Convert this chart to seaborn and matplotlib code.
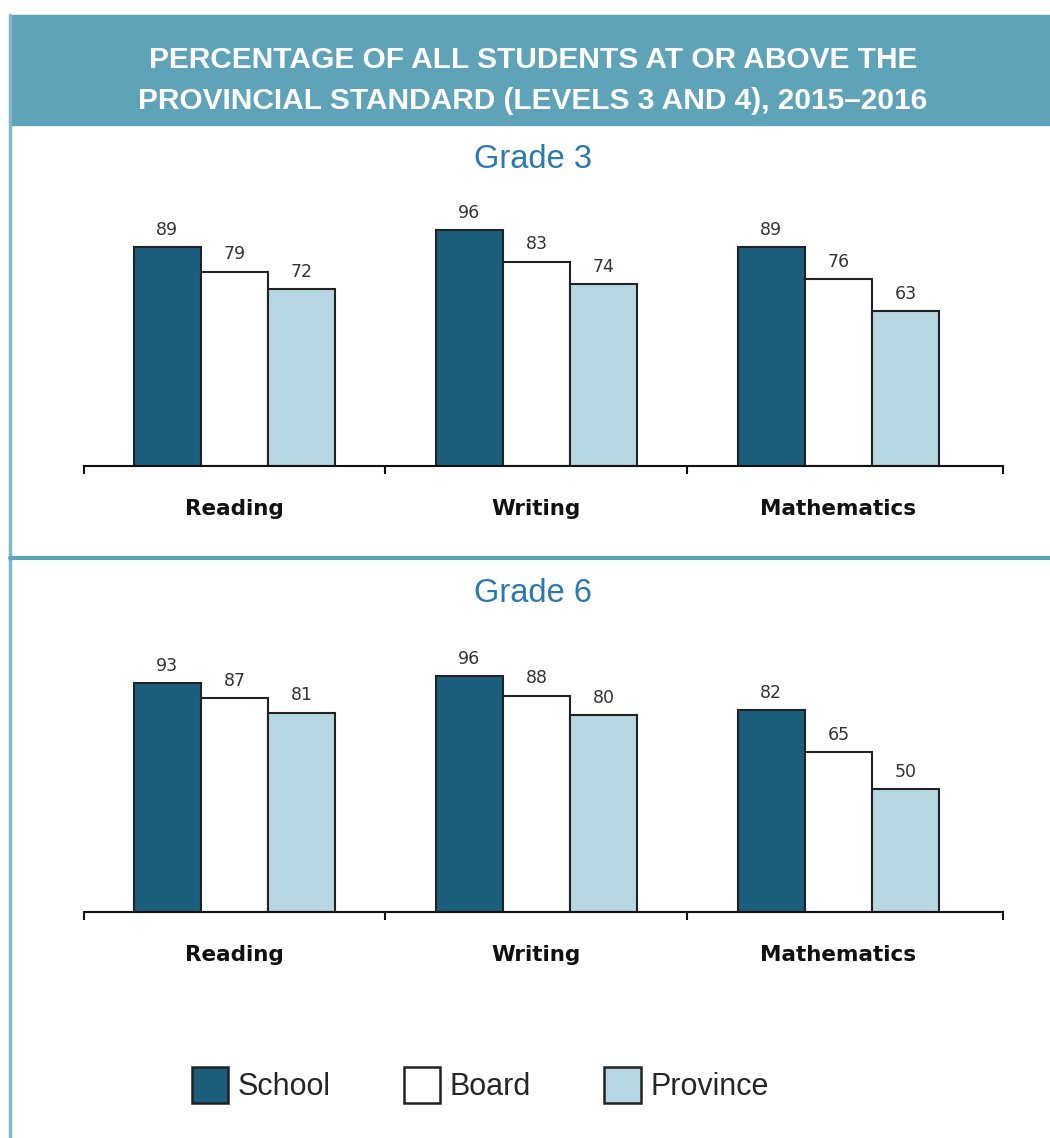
import numpy as np
import pandas as pd
import matplotlib
matplotlib.use("Agg")
import matplotlib.pyplot as plt
from matplotlib.patches import Patch, Rectangle
from matplotlib.lines import Line2D
import seaborn as sns

sns.set_theme(style="white")
plt.rcParams["font.family"] = ["Liberation Sans", "DejaVu Sans"]

# Data
subjects = ["Reading", "Writing", "Mathematics"]
groups = ["School", "Board", "Province"]
grade3_school = [89, 96, 89]
grade3_board = [79, 83, 76]
grade3_province = [72, 74, 63]
grade6_school = [93, 96, 82]
grade6_board = [87, 88, 65]
grade6_province = [81, 80, 50]

palette = {"School": "#1b5f7c", "Board": "#ffffff", "Province": "#b6d6e1"}
TEAL = "#5fa3b8"


def long_df(school, board, province):
    rows = []
    for g, vals in zip(groups, [school, board, province]):
        for s, v in zip(subjects, vals):
            rows.append({"Subject": s, "Group": g, "Value": v})
    return pd.DataFrame(rows)


W, H = 1050, 1138
fig = plt.figure(figsize=(W / 100, H / 100), dpi=100)

# header banner + frame lines
fig.patches.append(Rectangle((10 / W, 1 - 125 / H), 1 - 10 / W, 110 / H,
                             transform=fig.transFigure, color=TEAL, zorder=0))
fig.lines.append(Line2D([10 / W, 10 / W], [0, 1 - 15 / H], transform=fig.transFigure,
                        color="#7db8cc", lw=2.5))
fig.lines.append(Line2D([10 / W, 1], [1 - 558 / H, 1 - 558 / H], transform=fig.transFigure,
                        color=TEAL, lw=3))
fig.text(533 / W, 1 - 60 / H, "PERCENTAGE OF ALL STUDENTS AT OR ABOVE THE",
         ha="center", va="center", color="white", fontsize=21.5, fontweight="bold")
fig.text(533 / W, 1 - 101 / H, "PROVINCIAL STANDARD (LEVELS 3 AND 4), 2015\u20132016",
         ha="center", va="center", color="white", fontsize=21.5, fontweight="bold")

panels = [
    ("Grade 3", long_df(grade3_school, grade3_board, grade3_province), 466, 160),
    ("Grade 6", long_df(grade6_school, grade6_board, grade6_province), 912, 594),
]

for title, df, base_y, title_y in panels:
    ax = fig.add_axes([84 / W, 1 - base_y / H, 919 / W, 246 / H])
    sns.barplot(data=df, x="Subject", y="Value", hue="Group", order=subjects,
                hue_order=groups, palette=palette, edgecolor="#222222", linewidth=1.5,
                width=0.667, saturation=1, legend=False, ax=ax)
    for cont in ax.containers:
        ax.bar_label(cont, padding=6, fontsize=12.5, color="#333333",
                     family="DejaVu Sans")
    ax.set_ylim(0, 100)
    ax.set_xlim(-0.498, 2.545)
    ax.set_xlabel("")
    ax.set_ylabel("")
    ax.set_yticks([])
    for side in ["top", "left", "right"]:
        ax.spines[side].set_visible(False)
    ax.spines["bottom"].set_color("#111111")
    ax.spines["bottom"].set_linewidth(1.5)
    ax.set_xticks([-0.498, 0.5, 1.5, 2.545], minor=True)
    ax.tick_params(axis="x", which="minor", direction="out", length=6, width=1.5,
                   color="#111111", bottom=True)
    ax.tick_params(axis="x", which="major", length=0, pad=24)
    ax.set_xticks(range(len(subjects)))
    ax.set_xticklabels(subjects, fontsize=15.5, fontweight="bold", color="#111111",
                       family="DejaVu Sans")
    ax.set_facecolor("none")
    fig.text(533 / W, 1 - title_y / H, title, ha="center", va="center",
             color="#2a79b0", fontsize=23.5)

handles = [Patch(facecolor=palette[g], edgecolor="#222222", linewidth=1.8) for g in groups]
fig.legend(handles, groups, loc="center", bbox_to_anchor=(480 / W, 1 - 1085 / H),
           ncol=3, frameon=False, fontsize=22, handlelength=1.2, handleheight=1.4,
           handletextpad=0.3, columnspacing=2.4)

fig.savefig("out.png", dpi=100)
